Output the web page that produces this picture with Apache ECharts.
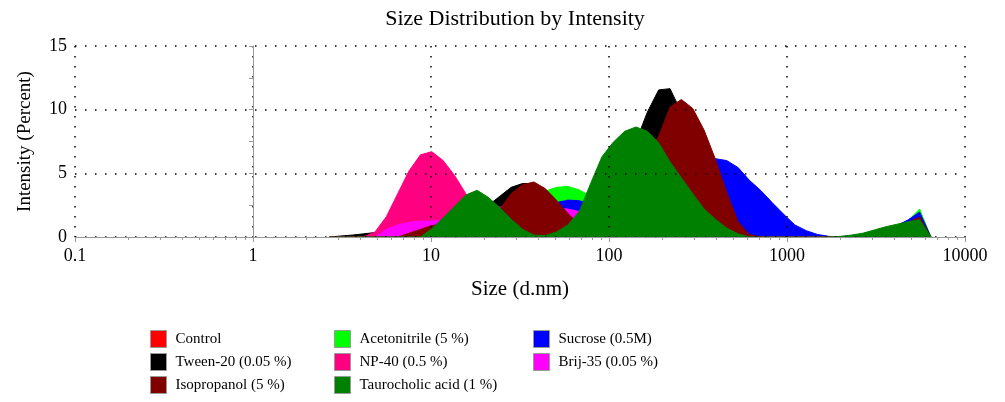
<!DOCTYPE html>
<html>
<head>
<meta charset="utf-8">
<script src="https://cdn.jsdelivr.net/npm/echarts@6/dist/echarts.min.js"></script>
<style>
  html, body { margin: 0; padding: 0; background: #fff; }
  #main { width: 1005px; height: 402px; }
</style>
</head>
<body>
<div id="main"></div>
<script>
// size bins (d.nm)
const sizes = [
  2.696, 3.122, 3.615, 4.187, 4.849, 5.615, 6.503, 7.531, 8.721, 10.10,
  11.70, 13.54, 15.69, 18.17, 21.04, 24.36, 28.21, 32.67, 37.84, 43.82,
  50.75, 58.77, 68.06, 78.82, 91.28, 105.7, 122.4, 141.8, 164.2, 190.1,
  220.2, 255.0, 295.3, 342.0, 396.1, 458.7, 531.2, 615.1, 712.4, 825.0,
  955.4, 1106, 1281, 1484, 1718, 1990, 2305, 2669, 3091, 3580,
  4145, 4801, 5560, 6439
];

// intensity (%) per bin
const control = [
  0, 0, 0, 0, 0, 0, 0, 0, 0, 0,
  0, 0, 0, 0, 0, 0.5, 1.5, 2.2, 2.4, 2.0,
  1.5, 0.8, 0.3, 0.5, 1.5, 3.0, 4.5, 6.0, 6.5, 6.5,
  5.5, 4.5, 3.2, 2.0, 1.0, 0.4, 0, 0, 0, 0,
  0, 0, 0, 0, 0, 0, 0, 0.1, 0.3, 0.5,
  0.7, 1.0, 1.2, 0
];
const acetonitrile = [
  0, 0, 0, 0, 0, 0, 0, 0, 0, 0,
  0, 0, 0, 0, 0, 1.0, 1.8, 2.5, 3.1, 3.6,
  3.9, 3.97, 3.7, 3.2, 2.6, 2.0, 1.5, 1.0, 0.6, 0.3,
  0.1, 0, 0, 0, 0, 0, 0, 0, 0, 0,
  0, 0, 0, 0, 0, 0, 0, 0.1, 0.3, 0.55,
  0.85, 1.3, 2.2, 0
];
const sucrose = [
  0, 0, 0, 0, 0, 0, 0, 0, 0, 0,
  0, 0, 0, 0, 0, 0, 0.5, 1.0, 1.5, 2.0,
  2.7, 2.9, 2.85, 2.6, 2.4, 2.5, 2.8, 3.3, 3.9, 4.5,
  5.0, 5.5, 5.9, 6.1, 6.15, 6.0, 5.45, 4.45, 3.65, 2.7,
  1.8, 0.95, 0.5, 0.2, 0.05, 0, 0.05, 0.15, 0.35, 0.6,
  0.9, 1.35, 1.95, 0
];
const tween20 = [
  0, 0.08, 0.15, 0.25, 0.35, 0.5, 0.7, 0.9, 1.0, 1.1,
  1.2, 1.4, 1.7, 2.1, 2.5, 3.2, 3.9, 4.2, 4.2, 3.5,
  2.5, 1.7, 1.2, 0.8, 0.8, 2.0, 4.5, 7.5, 9.8, 11.55,
  11.65, 9.8, 7.2, 4.5, 2.2, 0.6, 0, 0, 0, 0,
  0, 0, 0, 0, 0, 0, 0, 0, 0, 0,
  0, 0, 0, 0
];
const np40 = [
  0, 0, 0, 0, 0.4, 1.6, 3.4, 5.2, 6.45, 6.7,
  6.0, 4.85, 3.4, 2.0, 0.9, 0.3, 0, 0, 0, 0,
  0, 0, 0, 0, 0, 0, 0, 0, 0, 0,
  0, 0, 0, 0, 0, 0, 0, 0, 0, 0,
  0, 0, 0, 0, 0, 0, 0, 0, 0, 0,
  0, 0, 0, 0
];
const brij35 = [
  0, 0, 0, 0, 0, 0.6, 0.95, 1.15, 1.23, 1.26,
  1.3, 1.5, 1.8, 2.0, 2.2, 2.35, 2.4, 2.4, 2.35, 2.3,
  2.25, 2.2, 2.0, 1.5, 0.9, 0.4, 0.1, 0, 0, 0,
  0, 0, 0, 0, 0, 0, 0, 0, 0, 0,
  0, 0, 0, 0, 0, 0, 0, 0, 0, 0,
  0, 0, 0, 0
];
const isopropanol = [
  0, 0, 0, 0, 0, 0, 0, 0.3, 0.6, 0.9,
  1.0, 1.1, 1.2, 1.3, 1.6, 2.2, 3.4, 4.1, 4.32, 3.8,
  2.88, 1.85, 1.0, 0.5, 0.4, 1.0, 2.5, 4.5, 6.5, 7.9,
  10.2, 10.8, 10.1, 8.4, 6.1, 3.5, 1.2, 0.2, 0, 0,
  0, 0, 0, 0, 0, 0, 0, 0.1, 0.3, 0.5,
  0.8, 1.15, 1.57, 0
];
const taurocholic = [
  0, 0, 0, 0, 0, 0, 0, 0, 0, 0.65,
  1.5, 2.4, 3.3, 3.67, 3.1, 2.3, 1.4, 0.6, 0.15, 0.1,
  0.4, 0.95, 2.0, 4.2, 6.3, 7.45, 8.3, 8.64, 8.3, 7.4,
  5.9, 4.65, 3.4, 2.2, 1.4, 0.7, 0.25, 0, 0, 0,
  0, 0, 0, 0, 0, 0.05, 0.15, 0.3, 0.55, 0.8,
  1.0, 1.2, 1.35, 0
];

const xTickLabels = ['0.1', '1', '10', '100', '1000', '10000'];

// drawing order: later series sit on top
const seriesDefs = [
  ['Control', '#ff0000', control],
  ['Acetonitrile (5 %)', '#00ff00', acetonitrile],
  ['Sucrose (0.5M)', '#0000ff', sucrose],
  ['Tween-20 (0.05 %)', '#000000', tween20],
  ['NP-40 (0.5 %)', '#ff0080', np40],
  ['Brij-35 (0.05 %)', '#ff00ff', brij35],
  ['Isopropanol (5 %)', '#800000', isopropanol],
  ['Taurocholic acid (1 %)', '#008000', taurocholic]
];

// minor ticks of the log axis, placed on a hidden log10 value axis
const minorTicks = [];
for (let d = -1; d < 4; d++) {
  for (let k = 2; k <= 9; k++) minorTicks.push(d + Math.log10(k));
}

const serif = 'Liberation Serif';
const chart = echarts.init(document.getElementById('main'));

const legendBase = {
  orient: 'vertical',
  top: 330,
  padding: 0,
  icon: 'rect',
  itemWidth: 16,
  itemHeight: 17,
  itemGap: 5,
  itemStyle: { borderColor: '#999', borderWidth: 1 },
  textStyle: { fontFamily: serif, fontSize: 15, color: '#000', padding: [0, 0, 0, 4] },
  selectedMode: false
};

const option = {
  animation: false,
  backgroundColor: '#fff',
  title: {
    text: 'Size Distribution by Intensity',
    left: 510,
    top: 3,
    textAlign: 'center',
    textStyle: { fontFamily: serif, fontSize: 22, fontWeight: 'normal', color: '#000' }
  },
  legend: [
    Object.assign({}, legendBase, { left: 150, data: ['Control', 'Tween-20 (0.05 %)', 'Isopropanol (5 %)'] }),
    Object.assign({}, legendBase, { left: 334, data: ['Acetonitrile (5 %)', 'NP-40 (0.5 %)', 'Taurocholic acid (1 %)'] }),
    Object.assign({}, legendBase, { left: 533, data: ['Sucrose (0.5M)', 'Brij-35 (0.05 %)'] })
  ],
  grid: {
    left: 75, right: 40, top: 46, bottom: 165,
    containLabel: false,
    outerBoundsMode: 'none'
  },
  xAxis: [
    {
      type: 'log',
      logBase: 10,
      min: 0.1,
      max: 10000,
      position: 'bottom',
      name: 'Size (d.nm)',
      nameLocation: 'middle',
      nameGap: 42,
      nameTextStyle: { fontFamily: serif, fontSize: 21, color: '#000' },
      axisLine: { lineStyle: { color: '#999' } },
      axisTick: { length: 5, lineStyle: { color: '#999' } },
      axisLabel: {
        fontFamily: serif, fontSize: 18, color: '#000', margin: 10,
        formatter: (v, i) => xTickLabels[i]
      },
      splitLine: { show: true, lineStyle: { color: '#000', type: [1.5, 8.5], width: 1.5 } },
      z: 20
    },
    {
      type: 'value',
      min: -1,
      max: 4,
      position: 'bottom',
      offset: 0,
      axisLine: { show: false },
      axisLabel: { show: false },
      splitLine: { show: false },
      axisTick: { show: true, length: 3, customValues: minorTicks, lineStyle: { color: '#999' } },
      z: 20
    }
  ],
  yAxis: {
    type: 'value',
    min: 0,
    max: 15,
    interval: 5,
    name: 'Intensity (Percent)',
    nameLocation: 'middle',
    nameGap: 40,
    nameTextStyle: { fontFamily: serif, fontSize: 19, color: '#000' },
    axisLine: { show: true, lineStyle: { color: '#999' } },
    axisTick: { show: true, length: 4, lineStyle: { color: '#999' } },
    minorTick: { show: true, splitNumber: 2, length: 4, lineStyle: { color: '#999' } },
    axisLabel: { fontFamily: serif, fontSize: 18, color: '#000', margin: 8 },
    splitLine: { show: true, lineStyle: { color: '#000', type: [1.5, 8.5], width: 1.5 } },
    z: 20
  },
  series: seriesDefs.map(([name, color, vals], k) => ({
    name: name,
    type: 'line',
    xAxisIndex: 0,
    z: 2 + k,
    symbol: 'none',
    color: color,
    lineStyle: { color: color, width: 1 },
    areaStyle: { color: color, opacity: 1 },
    data: sizes.map((s, i) => [s, vals[i]])
  }))
};

chart.setOption(option);
</script>
</body>
</html>
